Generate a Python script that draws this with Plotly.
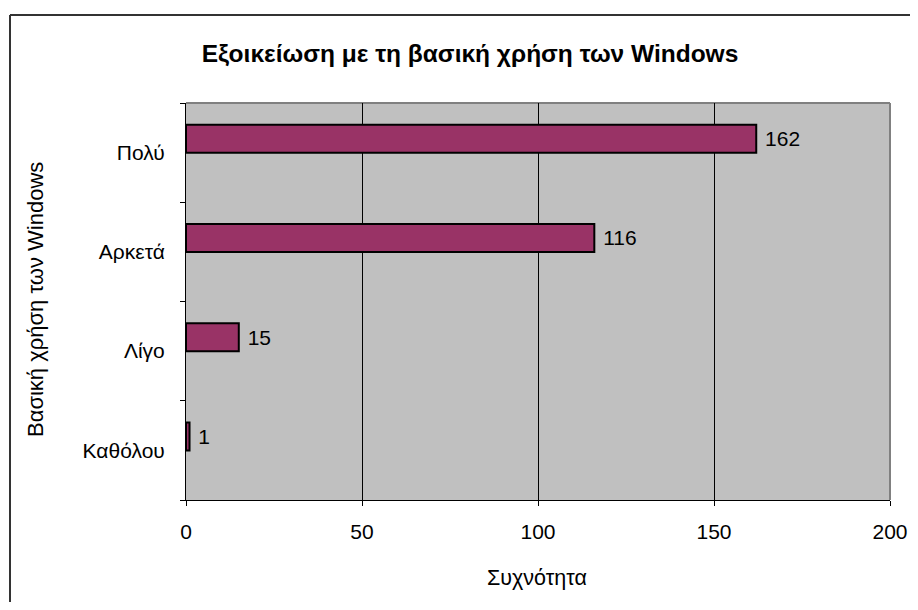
import plotly.graph_objects as go

categories = ["Καθόλου", "Λίγο", "Αρκετά", "Πολύ"]
values = [1, 15, 116, 162]
title_text = "Εξοικείωση με τη βασική χρήση των Windows"
x_title = "Συχνότητα"
y_title = "Βασική χρήση των Windows"

# page has an 8px body margin; work in page pixel coords and convert
OFF = 8
W, H = 918 - 2 * OFF, 610 - 2 * OFF
PL, PR, PT, PB = 186, 890, 103, 500          # plot area edges in page pixels
L, T = PL - OFF, PT - OFF
R, B = W - (PR - OFF), H - (PB - OFF)
PW, PH = PR - PL, PB - PT

def px_x(x):
    return (x - PL) / PW

def px_y(y):
    return (PB - y) / PH

FONT = "Liberation Sans, Arial, sans-serif"
FS = 21

fig = go.Figure(go.Bar(
    y=categories, x=values, orientation="h",
    width=0.28, offset=0,
    marker=dict(color="#993366", line=dict(color="black", width=2)),
    text=["\u00a0" + str(v) for v in values], textposition="outside",
    textfont=dict(family=FONT, size=FS, color="black"),
    cliponaxis=False,
))

fig.update_layout(
    width=W, height=H,
    margin=dict(l=L, r=R, t=T, b=B, pad=0, autoexpand=False),
    paper_bgcolor="white", plot_bgcolor="#C0C0C0",
    font=dict(family=FONT, size=FS, color="black"),
    showlegend=False,
    title=dict(text="<b>" + title_text + "</b>", x=(470 - OFF) / W, xref="container",
               xanchor="center", y=1 - (53 - OFF) / H, yref="container", yanchor="middle",
               font=dict(family=FONT, size=24.5, color="black")),
    xaxis=dict(range=[0, 200], dtick=50, showgrid=True, gridcolor="black", gridwidth=1,
               zeroline=False, showline=True, linecolor="black", linewidth=1,
               ticks="outside", ticklen=5, tickcolor="black", ticklabelstandoff=8,
               automargin=False, tickfont=dict(family=FONT, size=FS)),
    yaxis=dict(type="category", categoryorder="array", categoryarray=categories,
               range=[-0.5, 3.5], showgrid=False, zeroline=False,
               showline=True, linecolor="black", linewidth=1,
               ticks="outside", ticklen=5, tickcolor="black", tickson="boundaries",
               automargin=False, ticklabelstandoff=16, tickfont=dict(family=FONT, size=FS)),
    shapes=[
        dict(type="line", xref="paper", yref="paper", x0=1, x1=1, y0=0, y1=1,
             line=dict(color="#808080", width=2), layer="below"),
        dict(type="line", xref="paper", yref="paper", x0=0, x1=1, y0=1, y1=1,
             line=dict(color="#808080", width=2), layer="below"),
        dict(type="line", xref="paper", yref="paper", x0=px_x(10), x1=px_x(940),
             y0=px_y(15), y1=px_y(15), line=dict(color="#333333", width=2)),
        dict(type="line", xref="paper", yref="paper", x0=px_x(10), x1=px_x(10),
             y0=px_y(15), y1=px_y(640), line=dict(color="#333333", width=2)),
    ],
    annotations=[
        dict(text=x_title, xref="paper", yref="paper", x=px_x(537), y=px_y(578),
             xanchor="center", yanchor="middle", showarrow=False,
             font=dict(family=FONT, size=21.5)),
        dict(text=y_title, xref="paper", yref="paper", x=px_x(35), y=px_y(300),
             xanchor="center", yanchor="middle", showarrow=False, textangle=-90,
             font=dict(family=FONT, size=22)),
    ],
)

fig.write_html("out.html")
